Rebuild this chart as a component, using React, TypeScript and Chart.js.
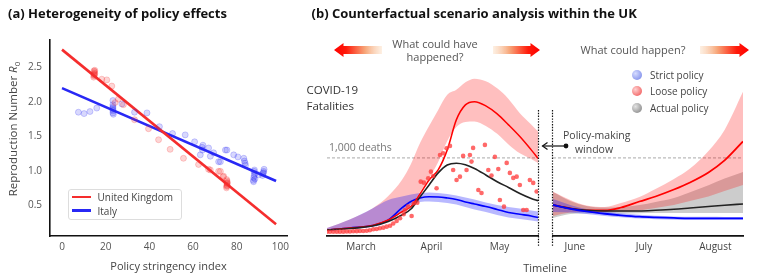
import React, { useEffect, useRef } from 'react';
import { Chart, registerables } from 'chart.js';

Chart.register(...registerables);

const FONT = '"Open Sans", "DejaVu Sans", sans-serif';
Chart.defaults.font.family = FONT;

// ---------------- Panel (a): stringency vs reproduction number ----------------
const ukStringency = [14.5, 14.6, 14.7, 14.8, 14.9, 15.0, 14.6, 14.8, 15.0, 18.2, 20.5, 22.8, 24.3, 25.8, 28.1, 33.2, 39.6, 44.2, 49.5, 55.6, 62.5, 67.1, 67.9, 71.7, 72.5, 73.7, 74.0, 75.3, 75.4, 75.5, 75.6, 75.7, 75.5, 75.4, 75.6, 75.5];
const ukR = [2.36, 2.38, 2.40, 2.42, 2.44, 2.46, 2.45, 2.39, 2.41, 2.33, 2.32, 2.23, 1.99, 2.04, 1.96, 1.74, 1.61, 1.45, 1.31, 1.18, 1.09, 1.02, 1.01, 0.99, 0.99, 0.91, 0.92, 0.75, 0.77, 0.79, 0.81, 0.83, 0.85, 0.87, 0.78, 0.82];
const italyStringency = [7.5, 10.1, 12.8, 15.9, 23.3, 23.3, 23.3, 23.3, 23.3, 23.3, 23.3, 23.5, 27.4, 33.2, 38.9, 44.6, 50.6, 56.4, 60.7, 63.3, 64.1, 64.3, 64.5, 67.1, 67.9, 69.4, 71.7, 72.5, 74.8, 75.5, 78.6, 80.5, 83.2, 83.5, 83.8, 84.0, 87.6, 87.8, 88.0, 88.2, 87.9, 88.1, 87.7, 88.3, 90.0, 91.8, 92.0, 92.3, 92.5, 92.2];
const italyR = [1.85, 1.83, 1.86, 1.91, 2.02, 1.96, 1.93, 1.91, 1.89, 1.87, 1.84, 1.82, 1.97, 1.85, 1.84, 1.64, 1.54, 1.52, 1.42, 1.23, 1.34, 1.30, 1.37, 1.33, 1.21, 1.26, 1.13, 1.13, 1.30, 1.30, 1.23, 1.20, 1.18, 1.14, 1.11, 1.08, 0.86, 0.90, 0.93, 0.96, 0.99, 1.01, 0.84, 0.88, 0.94, 0.93, 0.96, 0.99, 1.02, 0.97];
const fitStringency = [0, 98];
const ukFitR = [2.76, 0.22];
const italyFitR = [2.2, 0.85];
const stringencyTicks = [0, 20, 40, 60, 80, 100];
const rTicks = [0.5, 1.0, 1.5, 2.0, 2.5];

// ---------------- Panel (b): deaths per day (day 0 = 1 March) ----------------
const pastDays = [-15, -5, 5, 12, 18, 22, 26, 30, 34, 38, 42, 46, 50, 55, 60, 65, 70, 75, 78];
const pastActual = [77, 96, 128, 186, 269, 346, 500, 654, 808, 910, 932, 913, 865, 782, 695, 622, 545, 481, 452];
const pastLoose = [77, 103, 135, 205, 308, 378, 538, 718, 846, 1103, 1487, 1679, 1720, 1667, 1564, 1423, 1273, 1103, 996];
const pastLooseHi = [103, 212, 353, 513, 718, 923, 1192, 1410, 1615, 1808, 1872, 1968, 2015, 1981, 1891, 1756, 1573, 1429, 1337];
const pastLooseLo = [64, 90, 122, 192, 308, 397, 564, 744, 949, 1218, 1397, 1461, 1468, 1410, 1308, 1173, 1060, 987, 936];
const pastStrict = [77, 103, 135, 205, 359, 442, 487, 502, 500, 487, 468, 436, 410, 378, 340, 301, 278, 256, 237];
const pastStrictHi = [103, 212, 353, 462, 506, 532, 551, 558, 551, 538, 519, 494, 468, 429, 397, 372, 353, 327, 314];
const pastStrictLo = [64, 90, 115, 179, 308, 397, 436, 442, 436, 423, 404, 372, 340, 308, 269, 237, 218, 199, 186];

const observedDays = [-15.1, -13.7, -12.2, -10.7, -9.3, -7.8, -6.3, -4.9, -3.4, -1.9, -0.5, 1, 2.5, 3.9, 5.4, 6.9, 8.3, 9.8, 11.3, 12.8, 14.2, 15.7, 17.2, 18.8, 19.4, 20.7, 22.3, 23.3, 24.8, 26.3, 27.7, 29.6, 30.8, 31.8, 33.3, 34.8, 36.2, 37.7, 39.2, 40.6, 42.1, 43.6, 45, 46.5, 48, 48.7, 49.4, 51.7, 53.1, 54.6, 56.1, 57.5, 59, 60.5, 61.2, 63, 64.2, 65.6, 67.1, 68.6, 70, 71.5, 73, 74.4, 75.9, 77.4];
const observedDeaths = [55, 55, 55, 55, 56, 56, 58, 58, 60, 62, 64, 64, 68, 73, 86, 90, 99, 107, 120, 132, 160, 192, 227, 280, 333, 376, 256, 419, 427, 696, 683, 740, 824, 769, 611, 1038, 1060, 1124, 1154, 846, 718, 760, 1026, 846, 1038, 953, 1128, 590, 551, 1167, 846, 775, 1013, 859, 461, 376, 936, 808, 744, 760, 654, 333, 333, 718, 680, 570];

const futureDays = [82.5, 90, 97, 105, 112, 120, 127, 135, 142, 150, 157, 165];
const futureActual = [397, 353, 329, 321, 321, 321, 329, 342, 359, 378, 394, 410];
const futureActualHi = [564, 449, 385, 365, 372, 397, 436, 487, 560, 650, 735, 820];
const futureActualLo = [231, 282, 288, 288, 288, 291, 295, 295, 295, 295, 295, 295];
const futureLoose = [397, 353, 327, 327, 365, 442, 506, 595, 686, 814, 968, 1211];
const futureLooseHi = [568, 462, 391, 372, 423, 500, 603, 731, 865, 1090, 1359, 1846];
const futureLooseLo = [256, 301, 308, 310, 314, 327, 359, 397, 449, 506, 577, 654];
const futureStrict = [397, 349, 314, 285, 265, 247, 238, 231, 227, 227, 227, 227];
const futureStrictHi = [474, 397, 346, 314, 291, 272, 259, 251, 246, 245, 244, 244];
const futureStrictLo = [308, 301, 282, 256, 240, 223, 215, 209, 206, 205, 205, 205];

const pastMonthDays = [0, 31, 61];
const pastMonthLabels = ['March', 'April', 'May'];
const futureMonthDays = [92, 122, 153];
const futureMonthLabels = ['June', 'July', 'August'];
const thresholdDeaths = 1000;

const pts = (xs: number[], ys: number[]) => xs.map((x, i) => ({ x, y: ys[i] }));

const RED = 'rgb(255,0,0)';
const BLUE = 'rgb(0,0,255)';
const BLACK = '#222';
const PINK = 'rgba(255,0,0,0.25)';
const LAVENDER = 'rgba(0,0,255,0.28)';
const GREY = 'rgba(0,0,0,0.2)';

const band = (xs: number[], hi: number[], lo: number[], color: string, order: number) => [
  { data: pts(xs, hi), fill: '+1', backgroundColor: color, borderColor: 'transparent', borderWidth: 0, pointRadius: 0, cubicInterpolationMode: 'monotone', order },
  { data: pts(xs, lo), fill: false, borderColor: 'transparent', borderWidth: 0, pointRadius: 0, cubicInterpolationMode: 'monotone', order },
];
const curve = (xs: number[], ys: number[], color: string, width: number, order: number) => ({
  data: pts(xs, ys), borderColor: color, borderWidth: width, pointRadius: 0, fill: false, cubicInterpolationMode: 'monotone', order,
});

const dottedEdge = (side: 'left' | 'right') => ({
  id: 'dottedEdge' + side,
  afterDraw(chart: any) {
    const { ctx, chartArea } = chart;
    const x = side === 'right' ? Math.round(chartArea.right) + 0.5 : Math.round(chartArea.left) - 0.5;
    ctx.save();
    ctx.strokeStyle = '#111';
    ctx.lineWidth = 1.2;
    ctx.setLineDash([1.4, 1.4]);
    ctx.beginPath();
    ctx.moveTo(x, chartArea.top + 45);
    ctx.lineTo(x, chartArea.bottom + 11);
    ctx.stroke();
    ctx.restore();
  },
});

const monthAxis = (min: number, max: number, days: number[], labels: string[]) => ({
  type: 'linear',
  min,
  max,
  afterBuildTicks: (s: any) => { s.ticks = days.map((v) => ({ value: v })); },
  grid: { display: false, drawTicks: false },
  border: { display: true, color: '#111', width: 1.8 },
  ticks: { color: '#444', font: { size: 10 }, padding: 5, autoSkip: false, maxRotation: 0, callback: (_v: any, i: number) => labels[i] },
  afterFit: (s: any) => { s.height = 20; },
});

type TP = { x: number; y: number; size?: number; color?: string; weight?: number; align?: 'left' | 'center'; children: React.ReactNode };
const T = ({ x, y, size = 11, color = '#444', weight = 400, align = 'left', children }: TP) => (
  <div style={{ position: 'absolute', left: x, top: y, transform: `translate(${align === 'center' ? '-50%' : '0'}, -50%)`, fontSize: size, color, fontWeight: weight, whiteSpace: 'nowrap', lineHeight: 1, fontFamily: FONT }}>{children}</div>
);

const Dot = ({ x, y, c1, c2 }: { x: number; y: number; c1: string; c2: string }) => (
  <div style={{ position: 'absolute', left: x - 5, top: y - 5, width: 10, height: 10, borderRadius: '50%', background: `radial-gradient(circle at 35% 35%, ${c1}, ${c2})` }} />
);

export default function App() {
  const refA = useRef<HTMLCanvasElement>(null);
  const refB1 = useRef<HTMLCanvasElement>(null);
  const refB2 = useRef<HTMLCanvasElement>(null);

  useEffect(() => {
    document.body.style.margin = '0';
    const chartA = new Chart(refA.current!, {
      type: 'scatter',
      data: {
        datasets: [
          { label: 'United Kingdom', data: pts(fitStringency, ukFitR), showLine: true, borderColor: 'rgb(245,45,45)', borderWidth: 2.6, pointRadius: 0, order: 2 },
          { label: 'Italy', data: pts(fitStringency, italyFitR), showLine: true, borderColor: 'rgb(40,40,245)', borderWidth: 2.6, pointRadius: 0, order: 2 },
          { data: pts(ukStringency, ukR), backgroundColor: 'rgba(245,45,45,0.2)', borderColor: 'rgba(245,45,45,0.22)', borderWidth: 1, pointRadius: 3, order: 1 },
          { data: pts(italyStringency, italyR), backgroundColor: 'rgba(40,40,245,0.18)', borderColor: 'rgba(40,40,245,0.22)', borderWidth: 1, pointRadius: 3, order: 1 },
        ],
      } as any,
      options: {
        animation: false,
        responsive: false,
        plugins: { legend: { display: false }, tooltip: { enabled: false } },
        layout: { padding: { left: 0, right: 13, top: 40, bottom: 0 } },
        scales: {
          x: {
            type: 'linear', min: -5.5, max: 103,
            afterBuildTicks: (s: any) => { s.ticks = stringencyTicks.map((v) => ({ value: v })); },
            grid: { display: false, drawTicks: false },
            border: { display: true, color: '#111', width: 1.6 },
            ticks: { color: '#555', font: { size: 10 }, padding: 5, autoSkip: false, maxRotation: 0 },
            title: { display: true, text: 'Policy stringency index', color: '#444', font: { size: 11 }, padding: { top: 0, bottom: 5 } },
            afterFit: (s: any) => { s.height = 42; },
          },
          y: {
            type: 'linear', min: 0.05, max: 2.9,
            afterBuildTicks: (s: any) => { s.ticks = rTicks.map((v) => ({ value: v })); },
            grid: { display: false, drawTicks: false },
            border: { display: true, color: '#111', width: 1.6 },
            ticks: { color: '#555', font: { size: 10 }, padding: 8, callback: (v: any) => Number(v).toFixed(1) },
            afterFit: (s: any) => { s.width = 50; },
          },
        },
      } as any,
    });

    const chartB1 = new Chart(refB1.current!, {
      type: 'line',
      data: {
        datasets: [
          { data: [{ x: -15, y: thresholdDeaths }, { x: 78, y: thresholdDeaths }], borderColor: '#aaa', borderWidth: 1, borderDash: [3, 2], pointRadius: 0, fill: false, order: 10 },
          ...band(pastDays, pastLooseHi, pastLooseLo, PINK, 5),
          ...band(pastDays, pastStrictHi, pastStrictLo, LAVENDER, 4),
          curve(pastDays, pastActual, BLACK, 1.6, 2),
          curve(pastDays, pastLoose, RED, 1.5, 2),
          curve(pastDays, pastStrict, BLUE, 1.6, 2),
          { data: pts(observedDays, observedDeaths), showLine: false, pointRadius: 2.3, pointBorderWidth: 0, pointBackgroundColor: 'rgba(255,55,55,0.75)', backgroundColor: 'rgba(255,55,55,0.75)', borderColor: 'transparent', order: 1 },
        ],
      } as any,
      options: {
        animation: false,
        responsive: false,
        plugins: { legend: { display: false }, tooltip: { enabled: false } },
        layout: { padding: { left: 27, right: 7, top: 65, bottom: 22 } },
        scales: {
          x: monthAxis(-15, 78, pastMonthDays, pastMonthLabels),
          y: { display: false, min: 0, max: 2190 },
        },
      } as any,
      plugins: [dottedEdge('right')],
    });

    const chartB2 = new Chart(refB2.current!, {
      type: 'line',
      data: {
        datasets: [
          { data: [{ x: 82.5, y: thresholdDeaths }, { x: 165, y: thresholdDeaths }], borderColor: '#aaa', borderWidth: 1, borderDash: [3, 2], pointRadius: 0, fill: false, order: 10 },
          ...band(futureDays, futureActualHi, futureActualLo, GREY, 6),
          ...band(futureDays, futureLooseHi, futureLooseLo, PINK, 5),
          ...band(futureDays, futureStrictHi, futureStrictLo, LAVENDER, 4),
          curve(futureDays, futureActual, BLACK, 1.6, 2),
          curve(futureDays, futureLoose, RED, 1.8, 2),
          curve(futureDays, futureStrict, BLUE, 1.8, 1),
        ],
      } as any,
      options: {
        animation: false,
        responsive: false,
        plugins: { legend: { display: false }, tooltip: { enabled: false } },
        layout: { padding: { left: 8, right: 18, top: 65, bottom: 22 } },
        scales: {
          x: monthAxis(82.5, 165, futureMonthDays, futureMonthLabels),
          y: { display: false, min: 0, max: 2190 },
        },
      } as any,
      plugins: [dottedEdge('left')],
    });

    return () => { chartA.destroy(); chartB1.destroy(); chartB2.destroy(); };
  }, []);

  const arrow = (tip: number, tail: number, cy: number, id: string) => {
    const dir = tail > tip ? 1 : -1;
    const hl = 9.5 * dir, hh = 7, sh = 4;
    const d = `M${tip},${cy} L${tip + hl},${cy - hh} L${tip + hl},${cy - sh} L${tail},${cy - sh} L${tail},${cy + sh} L${tip + hl},${cy + sh} L${tip + hl},${cy + hh} Z`;
    return (
      <g key={id}>
        <defs>
          <linearGradient id={id} gradientUnits="userSpaceOnUse" x1={tail} y1={cy} x2={tip} y2={cy}>
            <stop offset="0" stopColor="#fbe0c6" stopOpacity="0.5" />
            <stop offset="0.35" stopColor="#f7a77a" />
            <stop offset="0.75" stopColor="#ff1a0a" />
            <stop offset="1" stopColor="#ff0000" />
          </linearGradient>
        </defs>
        <path d={d} fill={`url(#${id})`} />
      </g>
    );
  };

  return (
    <div style={{ position: 'relative', width: 761, height: 278, background: '#fff', fontFamily: FONT, overflow: 'hidden' }}>
      <canvas ref={refA} width={300} height={278} style={{ position: 'absolute', left: 0, top: 0 }} />
      <canvas ref={refB1} width={245} height={278} style={{ position: 'absolute', left: 300, top: 0 }} />
      <canvas ref={refB2} width={216} height={278} style={{ position: 'absolute', left: 545, top: 0 }} />

      <svg width={761} height={278} style={{ position: 'absolute', left: 0, top: 0, pointerEvents: 'none' }}>
        {arrow(334, 382, 50, 'g1')}
        {arrow(540, 493, 50, 'g2')}
        {arrow(749, 700, 50, 'g3')}
        <line x1={542.5} y1={146} x2={565} y2={146} stroke="#111" strokeWidth={1.2} />
        <path d="M547.5,142.5 L542.5,146 L547.5,149.5" stroke="#111" strokeWidth={1.2} fill="none" />
        <circle cx={566} cy={146} r={2.4} fill="#111" />
      </svg>

      <T x={8} y={13} size={13} weight={700} color="#111">(a) Heterogeneity of policy effects</T>
      <T x={311.5} y={13} size={13} weight={700} color="#111">(b) Counterfactual scenario analysis within the UK</T>

      <div style={{ position: 'absolute', left: 14, top: 128.5, transform: 'translate(-50%, -50%) rotate(-90deg)', fontSize: 11.5, color: '#444', whiteSpace: 'nowrap', lineHeight: 1, fontFamily: FONT }}>
        Reproduction Number <i>R</i><sub style={{ fontSize: 8, verticalAlign: 'sub' }}>0</sub>
      </div>

      <div style={{ position: 'absolute', left: 68, top: 189, width: 114, height: 31, border: '1px solid #ddd', borderRadius: 3, background: '#fff', boxSizing: 'border-box' }} />
      <div style={{ position: 'absolute', left: 72, top: 195.5, width: 19, height: 2.6, background: 'rgb(245,45,45)' }} />
      <div style={{ position: 'absolute', left: 72, top: 209, width: 19, height: 2.6, background: 'rgb(40,40,245)' }} />
      <T x={97.5} y={197} size={10} color="#444">United Kingdom</T>
      <T x={97.5} y={210.5} size={10} color="#444">Italy</T>

      <T x={435} y={42.5} size={11} color="#555" align="center">What could have</T>
      <T x={435} y={56.3} size={11} color="#555" align="center">happened?</T>
      <T x={633} y={49} size={11} color="#555" align="center">What could happen?</T>

      <Dot x={636.5} y={75} c1="#d6dcff" c2="#6f7fe6" />
      <Dot x={636.5} y={91} c1="#ffd0d0" c2="#ef4a4a" />
      <Dot x={636.5} y={107.5} c1="#e4e4e4" c2="#7a7a7a" />
      <T x={650} y={75} size={10} color="#444">Strict policy</T>
      <T x={650} y={91} size={10} color="#444">Loose policy</T>
      <T x={650} y={107.5} size={10} color="#444">Actual policy</T>

      <T x={306.5} y={90} size={11.5} color="#333">COVID-19</T>
      <T x={306.5} y={106} size={11.5} color="#333">Fatalities</T>
      <T x={329} y={146.5} size={10.5} color="#777">1,000 deaths</T>
      <T x={563} y={135} size={10.5} color="#444">Policy-making</T>
      <T x={594} y={149} size={10.5} color="#444" align="center">window</T>
      <T x={545} y={266.5} size={11} color="#444" align="center">Timeline</T>
    </div>
  );
}
